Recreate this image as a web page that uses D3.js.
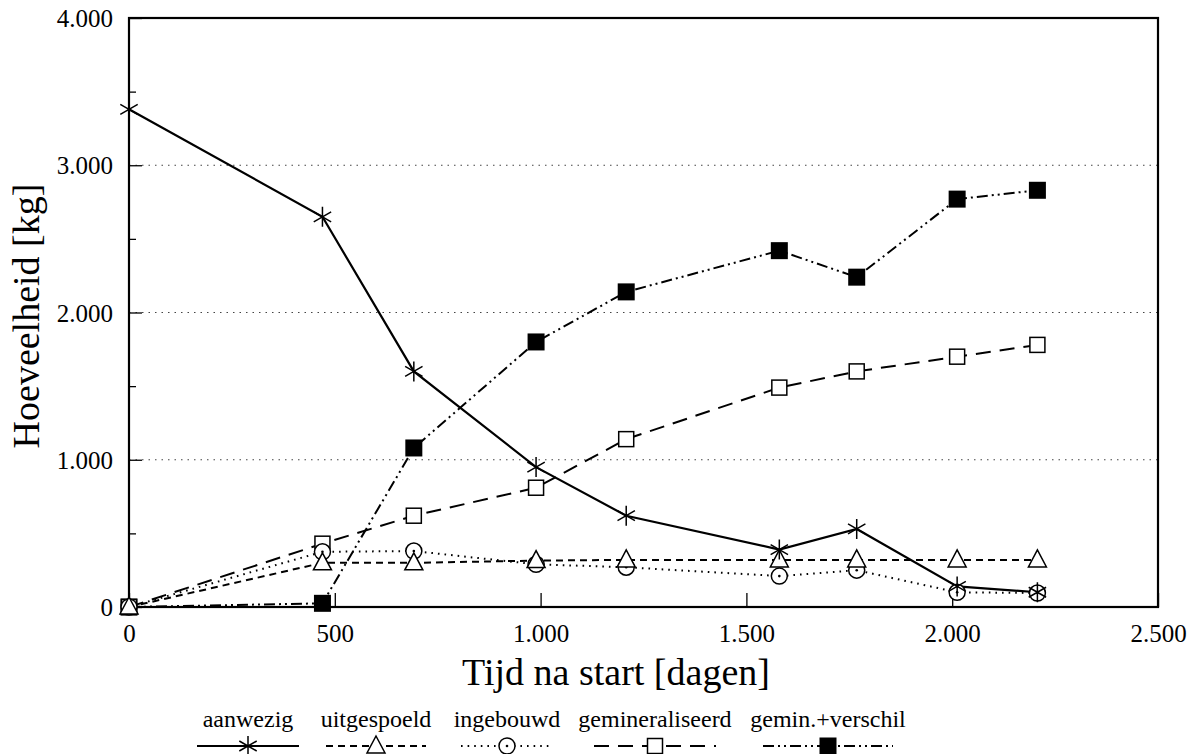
<!DOCTYPE html>
<html>
<head>
<meta charset="utf-8">
<script src="https://cdn.jsdelivr.net/npm/d3@7"></script>
<style>
  body { margin: 0; background: #fff; }
  svg text { font-family: "Liberation Serif", "Times New Roman", serif; fill: #000; }
</style>
</head>
<body>
<div id="chart-area"></div>
<script>
// days after start
var days = [0, 470, 692, 989, 1208, 1580, 1768, 2012, 2207];

// amounts in kg
var aanwezig        = [3380, 2650, 1600, 950, 620, 390, 530, 140, 100];
var uitgespoeld     = [0, 300, 300, 315, 320, 320, 320, 320, 320];
var ingebouwd       = [0, 375, 380, 290, 270, 210, 250, 100, 95];
var gemineraliseerd = [0, 430, 620, 810, 1140, 1490, 1600, 1700, 1780];
var geminVerschil   = [0, 25, 1080, 1800, 2140, 2420, 2240, 2770, 2830];

var seriesNames = ["aanwezig", "uitgespoeld", "ingebouwd", "gemineraliseerd", "gemin.+verschil"];
var xTicks = [0, 500, 1000, 1500, 2000, 2500];
var yTicks = [0, 1000, 2000, 3000, 4000];
var yMinor = [500, 1500, 2500, 3500];

var W = 1189, H = 754;
var margin = { left: 129, right: 31, top: 18, bottom: 147 },
    width = W - margin.left - margin.right,
    height = H - margin.top - margin.bottom;
var serif = "'Liberation Serif', 'Times New Roman', serif";

var svg = d3.select("#chart-area").append("svg")
    .attr("width", W)
    .attr("height", H);
var g = svg.append("g")
    .attr("transform", "translate(" + margin.left + "," + margin.top + ")");

var x = d3.scaleLinear().domain([0, 2500]).range([0, width]);
var y = d3.scaleLinear().domain([0, 4000]).range([height, 0]);

var nl = d3.formatLocale({ decimal: ",", thousands: ".", grouping: [3], currency: ["", ""] });
var fmt = nl.format(",");

// dotted grid lines
g.append("g").selectAll("line")
    .data([1000, 2000, 3000])
    .enter().append("line")
    .attr("x1", 0).attr("x2", width)
    .attr("y1", function(d) { return y(d); })
    .attr("y2", function(d) { return y(d); })
    .attr("stroke", "#444")
    .attr("stroke-width", 1)
    .attr("stroke-dasharray", "1.5,5");

// axes (ticks pointing inward)
var xAxis = g.append("g")
    .attr("transform", "translate(0," + height + ")")
    .call(d3.axisBottom(x).tickValues(xTicks).tickFormat(fmt).tickSize(-14).tickPadding(17));
var yAxis = g.append("g")
    .call(d3.axisLeft(y).tickValues(yTicks).tickFormat(fmt).tickSize(-13).tickPadding(16));
var yAxisMinor = g.append("g")
    .call(d3.axisLeft(y).tickValues(yMinor).tickFormat("").tickSize(-7));

[xAxis, yAxis, yAxisMinor].forEach(function(a) {
    a.attr("font-family", null).attr("font-size", null);
    a.select(".domain").remove();
    a.selectAll("line").attr("stroke", "#000").attr("stroke-width", 1.3);
    a.selectAll("text")
        .style("font-family", serif)
        .style("font-size", "25px")
        .attr("fill", "#000");
});
yAxis.selectAll("text").attr("dy", "0.34em");

// frame
g.append("rect")
    .attr("x", 0).attr("y", 0)
    .attr("width", width).attr("height", height)
    .attr("fill", "none")
    .attr("stroke", "#000")
    .attr("stroke-width", 2.2);

// axis labels
svg.append("text")
    .attr("x", 616)
    .attr("y", 685)
    .attr("text-anchor", "middle")
    .style("font-family", serif)
    .style("font-size", "38px")
    .text("Tijd na start [dagen]");
svg.append("text")
    .attr("transform", "translate(39,316) rotate(-90)")
    .attr("text-anchor", "middle")
    .style("font-family", serif)
    .style("font-size", "38px")
    .text("Hoeveelheid [kg]");

// marker drawing
function drawMarker(sel, type) {
    if (type == "star") {
        var s = 10;
        sel.append("path")
            .attr("d", "M0," + (-s) + "L0," + s +
                "M" + (-s * 0.87) + "," + (-s * 0.5) + "L" + (s * 0.87) + "," + (s * 0.5) +
                "M" + (-s * 0.87) + "," + (s * 0.5) + "L" + (s * 0.87) + "," + (-s * 0.5))
            .attr("stroke", "#000").attr("stroke-width", 1.5).attr("fill", "none");
    } else if (type == "triangle") {
        sel.append("path")
            .attr("d", "M0,-10L9,7L-9,7Z")
            .attr("stroke", "#000").attr("stroke-width", 1.5).attr("fill", "#fff");
    } else if (type == "circle") {
        sel.append("circle").attr("r", 8)
            .attr("stroke", "#000").attr("stroke-width", 1.5).attr("fill", "#fff");
        sel.append("circle").attr("r", 1.3).attr("fill", "#000");
    } else if (type == "square") {
        sel.append("rect").attr("x", -7.5).attr("y", -7.5).attr("width", 15).attr("height", 15)
            .attr("stroke", "#000").attr("stroke-width", 1.5).attr("fill", "#fff");
    } else if (type == "filled") {
        sel.append("rect").attr("x", -8.5).attr("y", -8.5).attr("width", 17).attr("height", 17)
            .attr("fill", "#000");
    }
}

var series = [
    { name: seriesNames[0], values: aanwezig,        dash: null,           marker: "star",     width: 2.2 },
    { name: seriesNames[1], values: uitgespoeld,     dash: "7,5",          marker: "triangle", width: 2 },
    { name: seriesNames[2], values: ingebouwd,       dash: "1.6,5",        marker: "circle",   width: 2 },
    { name: seriesNames[3], values: gemineraliseerd, dash: "15,9",         marker: "square",   width: 2 },
    { name: seriesNames[4], values: geminVerschil,   dash: "11,4,2,4,2,4", marker: "filled",   width: 2 }
];

var line = d3.line()
    .x(function(d) { return x(d.day); })
    .y(function(d) { return y(d.v); });

// lines first, then markers; reversed so aanwezig ends on top
series.slice().reverse().forEach(function(s) {
    var pts = days.map(function(d, i) { return { day: d, v: s.values[i] }; });
    g.append("path")
        .attr("d", line(pts))
        .attr("fill", "none")
        .attr("stroke", "#000")
        .attr("stroke-width", s.width)
        .attr("stroke-dasharray", s.dash);
});
series.slice().reverse().forEach(function(s) {
    days.forEach(function(d, i) {
        var m = g.append("g")
            .attr("transform", "translate(" + x(d) + "," + y(s.values[i]) + ")");
        drawMarker(m, s.marker);
    });
});

// legend
var legendCenters = [248, 376, 507, 655, 828];
var legendWidths = [102, 100, 92, 122, 130];
var legend = svg.append("g");
series.forEach(function(s, i) {
    var cx = legendCenters[i];
    legend.append("text")
        .attr("x", cx).attr("y", 727)
        .attr("text-anchor", "middle")
        .style("font-family", serif)
        .style("font-size", "24px")
        .text(s.name);
    legend.append("line")
        .attr("x1", cx - legendWidths[i] / 2).attr("x2", cx + legendWidths[i] / 2)
        .attr("y1", 746).attr("y2", 746)
        .attr("stroke", "#000")
        .attr("stroke-width", s.width)
        .attr("stroke-dasharray", s.dash);
    var m = legend.append("g").attr("transform", "translate(" + cx + ",746)");
    drawMarker(m, s.marker);
});
</script>
</body>
</html>
